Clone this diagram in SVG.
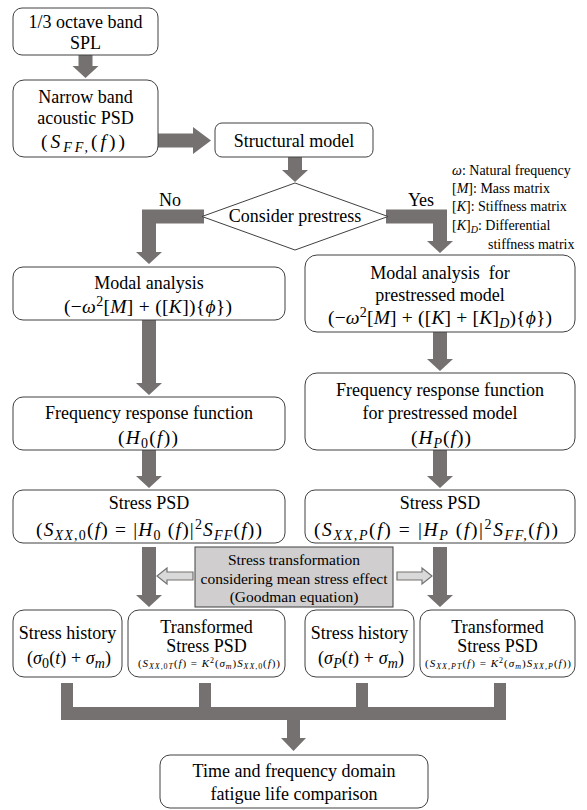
<svg xmlns="http://www.w3.org/2000/svg" width="587" height="810" viewBox="0 0 587 810">
<style>
.box{fill:#fff;stroke:#404040;stroke-width:1}
.gbox{fill:#d0cece;stroke:#404040;stroke-width:1}
.arr{fill:#767171;stroke:none}
.harr{fill:#d9d9d9;stroke:#767171;stroke-width:1.2}
.t{font-family:"Liberation Serif","Times New Roman",serif;font-size:18px;text-anchor:middle;fill:#000}
.f{font-size:19.5px}
.lg{font-family:"Liberation Serif","Times New Roman",serif;font-size:14px;fill:#000}
.g{font-size:15.5px}
.sm{font-size:11px}
.i{font-style:italic}
.sb{font-size:14px}
.ss{font-size:8px}
</style>
<rect width="587" height="810" fill="#fff"/>
<g id="connectors">
<polygon class="arr" points="78.5,55 92.5,55 92.5,66 98.5,66 85.5,78 72.5,66 78.5,66"/>
<polygon class="arr" points="158,133.5 193,133.5 193,127 211,140.5 193,154 193,147.5 158,147.5"/>
<polygon class="arr" points="288,157 302,157 302,170 308,170 295,182 282,170 288,170"/>
<polygon class="arr" points="386,209.5 447,209.5 447,241 453,241 440,253 427,241 433,241 433,223.5 386,223.5"/>
<polygon class="arr" points="204,209.5 142,209.5 142,252 136,252 149,264 162,252 156,252 156,223.5 204,223.5"/>
<polygon class="arr" points="142,320 156,320 156,383 162,383 149,395 136,383 142,383"/>
<polygon class="arr" points="433,332 447,332 447,359 453,359 440,371 427,359 433,359"/>
<polygon class="arr" points="142,450 156,450 156,476 162,476 149,488 136,476 142,476"/>
<polygon class="arr" points="433,450 447,450 447,476 453,476 440,488 427,476 433,476"/>
<polygon class="arr" points="142,547 156,547 156,595 162,595 149,607 136,595 142,595"/>
<polygon class="arr" points="433,547 447,547 447,595 453,595 440,607 427,595 433,595"/>
<polygon class="harr" points="193,572 167,572 167,568 157,576 167,584 167,580 193,580"/>
<polygon class="harr" points="397,572 422,572 422,568 432,576 422,584 422,580 397,580"/>
<path class="arr" d="M61,683 H73 V707 H199 V683 H211 V707 H356 V683 H368 V707 H494 V683 H506 V720 H61 Z"/>
<polygon class="arr" points="287,720 300,720 300,738 306,738 293.5,751 281,738 287,738"/>
<text class="t" x="170" y="206">No</text>
<text class="t" x="421" y="206">Yes</text>
</g>
<g id="n_spl">
<rect class="box" x="13" y="8" width="145" height="47" rx="9"/>
<text class="t" x="85.5" y="28">1/3 octave band</text>
<text class="t" x="85.5" y="49">SPL</text>
</g>
<g id="n_narrow">
<rect class="box" x="13" y="80" width="145" height="77" rx="11"/>
<text class="t" x="85.5" y="103">Narrow band</text>
<text class="t" x="85.5" y="124">acoustic PSD</text>
<text class="t f" x="83" y="148" textLength="84" lengthAdjust="spacing">(<tspan class="i">S</tspan><tspan class="sb i" dy="4">FF,</tspan><tspan dy="-4">(</tspan><tspan class="i">f</tspan>))</text>
</g>
<g id="n_struct">
<rect class="box" x="215" y="123" width="158" height="34" rx="7"/>
<text class="t" x="294" y="147">Structural model</text>
</g>
<g id="n_decision">
<polygon class="box" points="202,216.5 295,183 388,216.5 295,250"/>
<text class="t" x="295" y="222">Consider prestress</text>
</g>
<g id="legend">
<text class="lg" x="452" y="175"><tspan class="i">ω</tspan>: Natural frequency</text>
<text class="lg" x="452" y="193">[<tspan class="i">M</tspan>]: Mass matrix</text>
<text class="lg" x="452" y="211">[<tspan class="i">K</tspan>]: Stiffness matrix</text>
<text class="lg" x="452" y="230">[<tspan class="i">K</tspan>]<tspan class="i" font-size="10" dy="3">D</tspan><tspan dy="-3">: Differential</tspan></text>
<text class="lg" x="488" y="249">stiffness matrix</text>
</g>
<g id="n_modal">
<rect class="box" x="13" y="267" width="272" height="53" rx="10"/>
<text class="t" x="149" y="289">Modal analysis</text>
<text class="t f" x="148" y="313" textLength="168" lengthAdjust="spacing">(−<tspan class="i">ω</tspan><tspan class="sb" dy="-7">2</tspan><tspan dy="7">[</tspan><tspan class="i">M</tspan>] + ([<tspan class="i">K</tspan>]){<tspan class="i">ϕ</tspan>})</text>
</g>
<g id="n_modal_p">
<rect class="box" x="305" y="255" width="270" height="77" rx="12"/>
<text class="t" x="440" y="279">Modal analysis&#160; for</text>
<text class="t" x="440" y="301">prestressed model</text>
<text class="t f" x="440" y="324" textLength="224" lengthAdjust="spacing">(−<tspan class="i">ω</tspan><tspan class="sb" dy="-7">2</tspan><tspan dy="7">[</tspan><tspan class="i">M</tspan>] + ([<tspan class="i">K</tspan>] + [<tspan class="i">K</tspan>]<tspan class="sb i" dy="4">D</tspan><tspan dy="-4">){</tspan><tspan class="i">ϕ</tspan>})</text>
</g>
<g id="n_frf">
<rect class="box" x="13" y="397" width="272" height="53" rx="10"/>
<text class="t" x="149" y="419">Frequency response function</text>
<text class="t f" x="148" y="444" textLength="60" lengthAdjust="spacing">(<tspan class="i">H</tspan><tspan class="sb" dy="4">0</tspan><tspan dy="-4">(</tspan><tspan class="i">f</tspan>))</text>
</g>
<g id="n_frf_p">
<rect class="box" x="305" y="373" width="270" height="77" rx="12"/>
<text class="t" x="440" y="396">Frequency response function</text>
<text class="t" x="440" y="419">for prestressed model</text>
<text class="t f" x="441" y="444" textLength="60" lengthAdjust="spacing">(<tspan class="i">H</tspan><tspan class="sb i" dy="4">P</tspan><tspan dy="-4">(</tspan><tspan class="i">f</tspan>))</text>
</g>
<g id="n_psd">
<rect class="box" x="13" y="490" width="272" height="53" rx="10"/>
<text class="t" x="149" y="509">Stress PSD</text>
<text class="t f" x="149" y="536" textLength="226" lengthAdjust="spacing">(<tspan class="i">S</tspan><tspan class="sb" dy="4"><tspan class="i">XX</tspan>,0</tspan><tspan dy="-4">(</tspan><tspan class="i">f</tspan>) = |<tspan class="i">H</tspan><tspan class="sb" dy="4">0</tspan><tspan dy="-4"> (</tspan><tspan class="i">f</tspan>)|<tspan class="sb" dy="-7">2</tspan><tspan class="i" dy="7">S</tspan><tspan class="sb i" dy="4">FF</tspan><tspan dy="-4">(</tspan><tspan class="i">f</tspan>))</text>
</g>
<g id="n_psd_p">
<rect class="box" x="305" y="490" width="270" height="53" rx="10"/>
<text class="t" x="440" y="509">Stress PSD</text>
<text class="t f" x="436" y="536" textLength="244" lengthAdjust="spacing">(<tspan class="i">S</tspan><tspan class="sb i" dy="4">XX,P</tspan><tspan dy="-4">(</tspan><tspan class="i">f</tspan>) = |<tspan class="i">H</tspan><tspan class="sb i" dy="4">P</tspan><tspan dy="-4"> (</tspan><tspan class="i">f</tspan>)|<tspan class="sb" dy="-7">2</tspan><tspan class="i" dy="7">S</tspan><tspan class="sb i" dy="4">FF,</tspan><tspan dy="-4">(</tspan><tspan class="i">f</tspan>))</text>
</g>
<g id="n_goodman">
<rect class="gbox" x="195" y="547" width="198" height="60"/>
<text class="t g" x="294" y="565">Stress transformation</text>
<text class="t g" x="294" y="584">considering mean stress effect</text>
<text class="t g" x="294" y="602">(Goodman equation)</text>
</g>
<g id="n_hist0">
<rect class="box" x="13" y="610" width="109" height="67" rx="11"/>
<text class="t" x="67.5" y="639">Stress history</text>
<text class="t" x="69" y="664" textLength="84" lengthAdjust="spacing">(<tspan class="i">σ</tspan><tspan class="sb" dy="4">0</tspan><tspan dy="-4">(</tspan><tspan class="i">t</tspan>) + <tspan class="i">σ</tspan><tspan class="sb i" dy="4">m</tspan><tspan dy="-4">)</tspan></text>
</g>
<g id="n_tpsd0">
<rect class="box" x="128" y="610" width="157" height="67" rx="11"/>
<text class="t" x="206.5" y="633">Transformed</text>
<text class="t" x="206.5" y="652">Stress PSD</text>
<text class="t sm" x="209" y="667" textLength="142" lengthAdjust="spacing">(<tspan class="i">S</tspan><tspan class="ss" dy="2"><tspan class="i">XX</tspan>,0<tspan class="i">T</tspan></tspan><tspan dy="-2">(</tspan><tspan class="i">f</tspan>) = <tspan class="i">K</tspan><tspan class="ss" dy="-4">2</tspan><tspan dy="4">(</tspan><tspan class="i">σ</tspan><tspan class="ss i" dy="2">m</tspan><tspan dy="-2">)</tspan><tspan class="i">S</tspan><tspan class="ss" dy="2"><tspan class="i">XX</tspan>,0</tspan><tspan dy="-2">(</tspan><tspan class="i">f</tspan>))</text>
</g>
<g id="n_histp">
<rect class="box" x="305" y="610" width="109" height="67" rx="11"/>
<text class="t" x="359.5" y="639">Stress history</text>
<text class="t" x="361" y="664" textLength="86" lengthAdjust="spacing">(<tspan class="i">σ</tspan><tspan class="sb i" dy="4">P</tspan><tspan dy="-4">(</tspan><tspan class="i">t</tspan>) + <tspan class="i">σ</tspan><tspan class="sb i" dy="4">m</tspan><tspan dy="-4">)</tspan></text>
</g>
<g id="n_tpsdp">
<rect class="box" x="420" y="610" width="155" height="67" rx="11"/>
<text class="t" x="497.5" y="633">Transformed</text>
<text class="t" x="497.5" y="652">Stress PSD</text>
<text class="t sm" x="498" y="667" textLength="146" lengthAdjust="spacing">(<tspan class="i">S</tspan><tspan class="ss i" dy="2">XX,PT</tspan><tspan dy="-2">(</tspan><tspan class="i">f</tspan>) = <tspan class="i">K</tspan><tspan class="ss" dy="-4">2</tspan><tspan dy="4">(</tspan><tspan class="i">σ</tspan><tspan class="ss i" dy="2">m</tspan><tspan dy="-2">)</tspan><tspan class="i">S</tspan><tspan class="ss i" dy="2">XX,P</tspan><tspan dy="-2">(</tspan><tspan class="i">f</tspan>))</text>
</g>
<g id="n_final">
<rect class="box" x="160" y="755" width="268" height="53" rx="10"/>
<text class="t" x="294" y="777">Time and frequency domain</text>
<text class="t" x="294" y="800">fatigue life comparison</text>
</g>
</svg>
